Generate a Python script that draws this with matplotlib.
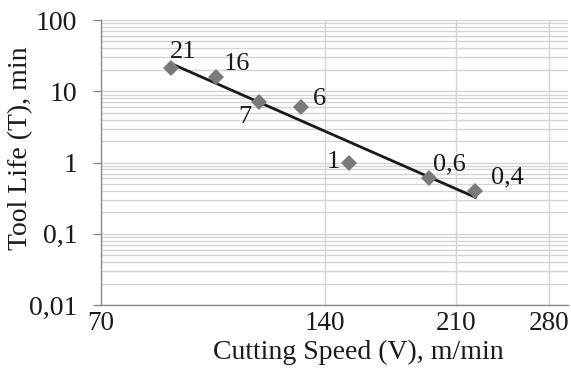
import numpy as np
import matplotlib

matplotlib.use("Agg")

import matplotlib.pyplot as plt
from matplotlib.ticker import FixedLocator, LogLocator, NullFormatter

# cutting speed (m/min) and tool life (min)
speed = [87, 100, 114, 130, 151, 193, 223]
life = [21, 16, 7, 6, 1, 0.6, 0.4]
point_labels = ["21", "16", "7", "6", "1", "0,6", "0,4"]
# label offsets in pixels relative to each marker
label_offsets = [(12, 16), (21, 13), (-14, -15), (18, 8), (-16, 0), (21, 14), (32, 13)]

x_ticks = [70, 140, 210, 280]
y_ticks = [0.01, 0.1, 1, 10, 100]
y_tick_labels = ["0,01", "0,1", "1", "10", "100"]

plt.rcParams["font.family"] = ["Liberation Serif", "DejaVu Serif"]

fig = plt.figure(figsize=(5.71, 3.69), dpi=100)
fig.patch.set_facecolor("white")
ax = fig.add_axes([101 / 571, 1 - 305 / 369, 467 / 571, 285 / 369])

ax.set_xscale("log")
ax.set_yscale("log")
ax.set_xlim(70, 297)
ax.set_ylim(0.01, 100)

# power trend line fitted to the data (Excel style)
lx, ly = np.log(speed), np.log(life)
b, a = np.polyfit(lx, ly, 1)
xs = np.linspace(min(speed), max(speed), 100)
ax.plot(xs, np.exp(a) * xs ** b, color="#1a1a1a", lw=2, zorder=3)

ax.plot(speed, life, linestyle="none", marker="D", markersize=8.5,
        color="#7a7a7a", markeredgewidth=0, zorder=4)

for x, y, text, (dx, dy) in zip(speed, life, point_labels, label_offsets):
    ax.annotate(text, (x, y), xytext=(dx, dy), textcoords="offset pixels",
                ha="center", va="center", fontsize=19, color="#1a1a1a", zorder=5)

ax.xaxis.set_major_locator(FixedLocator(x_ticks))
ax.xaxis.set_minor_locator(FixedLocator([]))
ax.set_xticks(x_ticks)
ax.set_xticklabels([str(v) for v in x_ticks])
ax.xaxis.set_minor_formatter(NullFormatter())

ax.set_yticks(y_ticks)
ax.set_yticklabels(y_tick_labels)
ax.yaxis.set_minor_locator(LogLocator(base=10, subs=np.arange(2, 10), numticks=20))
ax.yaxis.set_minor_formatter(NullFormatter())

ax.grid(which="major", color="#d4d4d4", lw=1)
ax.grid(which="minor", axis="y", color="#d4d4d4", lw=1)
ax.set_axisbelow(True)

for side in ["top", "right"]:
    ax.spines[side].set_visible(False)
for side in ["left", "bottom"]:
    ax.spines[side].set_color("#8a8a8a")
    ax.spines[side].set_linewidth(1)

ax.tick_params(axis="y", which="major", length=6, width=1, color="#8a8a8a",
               labelsize=20, pad=11, labelcolor="#1a1a1a")
ax.tick_params(axis="y", which="minor", length=0)
ax.tick_params(axis="x", which="both", length=0, labelsize=19.5, pad=4,
               labelcolor="#1a1a1a")

ax.set_xlabel("Cutting Speed (V), m/min", fontsize=20, color="#1a1a1a", va="center")
ax.xaxis.set_label_coords((358 - 101) / 467, -(352 - 305) / 285)
ax.set_ylabel("Tool Life (T), min", fontsize=20, color="#1a1a1a", va="center")
ax.yaxis.set_label_coords(-(101 - 21) / 467, (305 - 148) / 285)

fig.savefig("out.png", dpi=100, facecolor="white")
plt.close(fig)
